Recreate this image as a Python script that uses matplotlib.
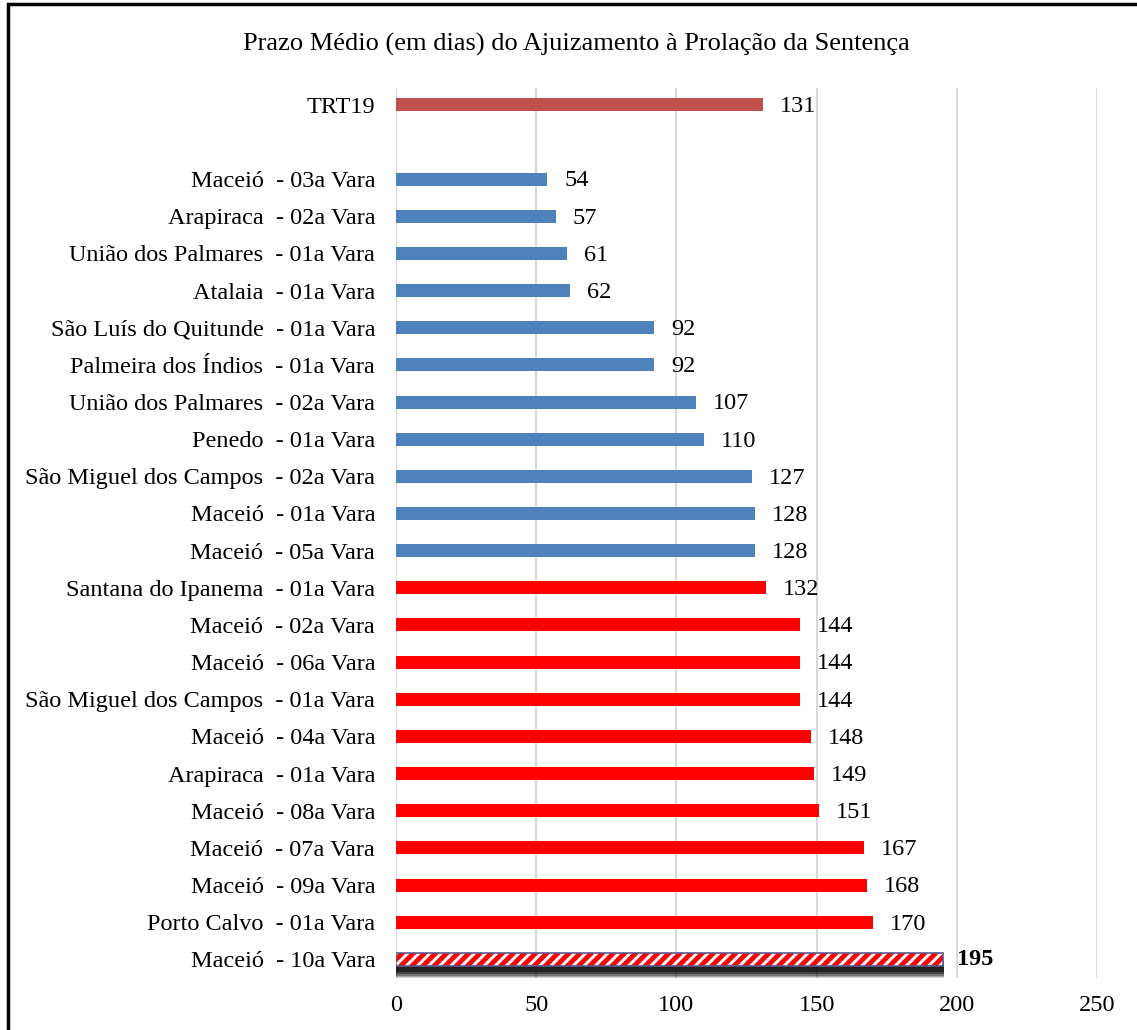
import numpy as np
import matplotlib
matplotlib.use("Agg")
from matplotlib import pyplot as plt
from matplotlib.patches import Rectangle

# data, bottom to top
labels = ["Maceió  - 10a Vara", "Porto Calvo  - 01a Vara", "Maceió  - 09a Vara",
          "Maceió  - 07a Vara", "Maceió  - 08a Vara", "Arapiraca  - 01a Vara",
          "Maceió  - 04a Vara", "São Miguel dos Campos  - 01a Vara", "Maceió  - 06a Vara",
          "Maceió  - 02a Vara", "Santana do Ipanema  - 01a Vara", "Maceió  - 05a Vara",
          "Maceió  - 01a Vara", "São Miguel dos Campos  - 02a Vara", "Penedo  - 01a Vara",
          "União dos Palmares  - 02a Vara", "Palmeira dos Índios  - 01a Vara",
          "São Luís do Quitunde  - 01a Vara", "Atalaia  - 01a Vara",
          "União dos Palmares  - 01a Vara", "Arapiraca  - 02a Vara", "Maceió  - 03a Vara",
          "", "TRT19"]
values = [195, 170, 168, 167, 151, 149, 148, 144, 144, 144, 132,
          128, 128, 127, 110, 107, 92, 92, 62, 61, 57, 54, None, 131]
groups = ["worst"] + ["red"] * 10 + ["blue"] * 11 + ["gap", "trt"]

colors = {"red": "#FF0000", "blue": "#4F81BD", "trt": "#C0504D", "worst": "white"}

plt.rcParams["font.family"] = ["Liberation Serif", "DejaVu Serif"]
plt.rcParams["hatch.linewidth"] = 3.5

fig = plt.figure(figsize=(11.37, 10.30), dpi=100)
ax = fig.add_axes([396 / 1137, 1 - 978 / 1030, (1097 - 396) / 1137, (978 - 88) / 1030])

y = np.arange(len(labels))
h = 0.35
for yi, v, g in zip(y, values, groups):
    if v is None:
        continue
    if g == "worst":
        # shadow under the highlighted bar
        for k, a in enumerate([0.5, 0.4, 0.3, 0.2, 0.12, 0.06]):
            ax.barh(yi - 0.2 - k * 0.035, v + 0.5, height=h - 0.05 + k * 0.02, color="black",
                    alpha=a, zorder=2, linewidth=0)
        ax.barh(yi, v, height=h, color="white", edgecolor="#FF0000", hatch="///",
                linewidth=0, zorder=3)
        ax.barh(yi, v, height=h, color="none", edgecolor="#5B5B8F", linewidth=1.2, zorder=4)
        ax.text(v + 5, yi, str(v), va="center", ha="left", fontsize=17.5, fontweight="bold")
    else:
        ax.barh(yi, v, height=h, color=colors[g], zorder=3)
        ax.text(v + 6, yi - 0.05, str(v), va="center", ha="left", fontsize=17.5)

ax.set_xlim(0, 250)
ax.set_ylim(-0.5, len(labels) - 0.55)
ax.set_xticks(range(0, 251, 50))
ax.set_yticks(y)
ax.set_yticklabels(labels)
ax.tick_params(axis="both", length=0, labelsize=17.5)
ax.tick_params(axis="y", pad=15)
ax.tick_params(axis="x", pad=12)
ax.grid(axis="x", color="#D9D9D9", linewidth=1.5, zorder=0)
ax.set_axisbelow(True)
for s in ax.spines.values():
    s.set_visible(False)

fig.text(576 / 1137, 1 - 44 / 1030, "Prazo Médio (em dias) do Ajuizamento à Prolação da Sentença",
         ha="center", va="center", fontsize=19)

# outer frame
fig.patches.append(Rectangle((8 / 1137, -0.01), 1.1, 1 - 4 / 1030 + 0.01, transform=fig.transFigure,
                             fill=False, edgecolor="black", linewidth=2.5))

fig.savefig("out.png", dpi=100)
